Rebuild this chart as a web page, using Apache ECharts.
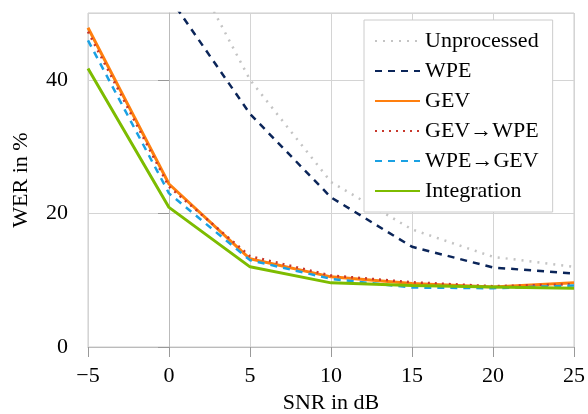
<!DOCTYPE html>
<html>
<head>
<meta charset="utf-8">
<script src="https://cdn.jsdelivr.net/npm/echarts@6/dist/echarts.min.js"></script>
<style>
  html, body { margin: 0; padding: 0; background: #fff; }
  #box { width: 588px; height: 414px; }
</style>
</head>
<body>
<div id="box"></div>
<script>
  // SNR in dB
  const snr = [-5, 0, 5, 10, 15, 20, 25];
  // WER in %
  const unprocessed = [85, 63, 40, 24.7, 17.6, 13.5, 12.0];
  const wpe = [70, 52.4, 34.9, 22.4, 15.0, 11.9, 11.0];
  const gev = [47.8, 24.4, 13.2, 10.5, 9.5, 9.0, 9.6];
  const gevWpe = [47.2, 24.0, 13.6, 10.7, 9.7, 9.1, 9.4];
  const wpeGev = [45.9, 23.0, 13.0, 10.2, 8.9, 8.8, 9.2];
  const integration = [41.7, 20.9, 12.0, 9.6, 9.2, 9.0, 8.8];

  const font = '"Liberation Serif", "DejaVu Serif", serif';
  const pairs = (ys) => snr.map((x, i) => [x, ys[i]]);
  const minus = (v) => String(v).replace('-', '\u2212');

  function line(name, data, color, type, width) {
    return {
      name: name,
      type: 'line',
      data: pairs(data),
      symbol: 'none',
      clip: true,
      lineStyle: { color: color, type: type, width: width || 2.5 },
      itemStyle: { color: color },
    };
  }

  const chart = echarts.init(document.getElementById('box'), null, { renderer: 'canvas' });
  chart.setOption({
    animation: false,
    backgroundColor: '#fff',
    grid: {
      left: 88, right: 14, top: 13, bottom: 67,
      outerBoundsMode: 'none',
      containLabel: false,
      show: true, borderColor: '#cccccc', borderWidth: 1,
    },
    legend: {
      orient: 'vertical',
      left: 364,
      top: 20,
      padding: [10, 14, 10, 10],
      itemWidth: 45,
      itemHeight: 14,
      itemGap: 8,
      backgroundColor: '#fff',
      borderColor: '#cccccc',
      borderWidth: 1,
      borderRadius: 0,
      itemStyle: { opacity: 0 },
      textStyle: { fontFamily: font, fontSize: 22, color: '#000', lineHeight: 22 },
      data: ['Unprocessed', 'WPE', 'GEV', 'GEV\u2192WPE', 'WPE\u2192GEV', 'Integration'],
    },
    xAxis: {
      type: 'value',
      min: -5, max: 25, interval: 5,
      name: 'SNR in dB',
      nameLocation: 'middle',
      nameGap: 44,
      nameTextStyle: { fontFamily: font, fontSize: 22, color: '#000' },
      axisLine: { show: true, lineStyle: { color: '#bbbbbb' } },
      axisTick: { show: true, length: 10, inside: false, lineStyle: { color: '#999999' } },
      axisLabel: { fontFamily: font, fontSize: 22, color: '#000', margin: 18, formatter: minus },
      splitLine: { show: true, lineStyle: { color: '#d4d4d4' } },
    },
    yAxis: {
      type: 'value',
      min: 0, max: 50, interval: 20,
      name: 'WER in %',
      nameLocation: 'middle',
      nameGap: 56,
      nameTextStyle: { fontFamily: font, fontSize: 22, color: '#000' },
      axisLine: { show: true, lineStyle: { color: '#bbbbbb' } },
      axisTick: { show: true, length: 11, inside: false, lineStyle: { color: '#999999' } },
      axisLabel: { fontFamily: font, fontSize: 22, color: '#000', margin: 20, showMaxLabel: false },
      splitLine: { show: true, lineStyle: { color: '#d4d4d4' } },
    },
    series: [
      line('Unprocessed', unprocessed, '#c4c4c4', [2, 6], 2.5),
      line('WPE', wpe, '#0b2559', [7, 6], 2.5),
      line('GEV', gev, '#ff7f0e', 'solid', 3),
      line('GEV\u2192WPE', gevWpe, '#c8382c', [2, 5], 2.5),
      line('WPE\u2192GEV', wpeGev, '#1aa1e3', [7, 6], 2.5),
      line('Integration', integration, '#7dbc00', 'solid', 3),
    ],
  });
</script>
</body>
</html>
